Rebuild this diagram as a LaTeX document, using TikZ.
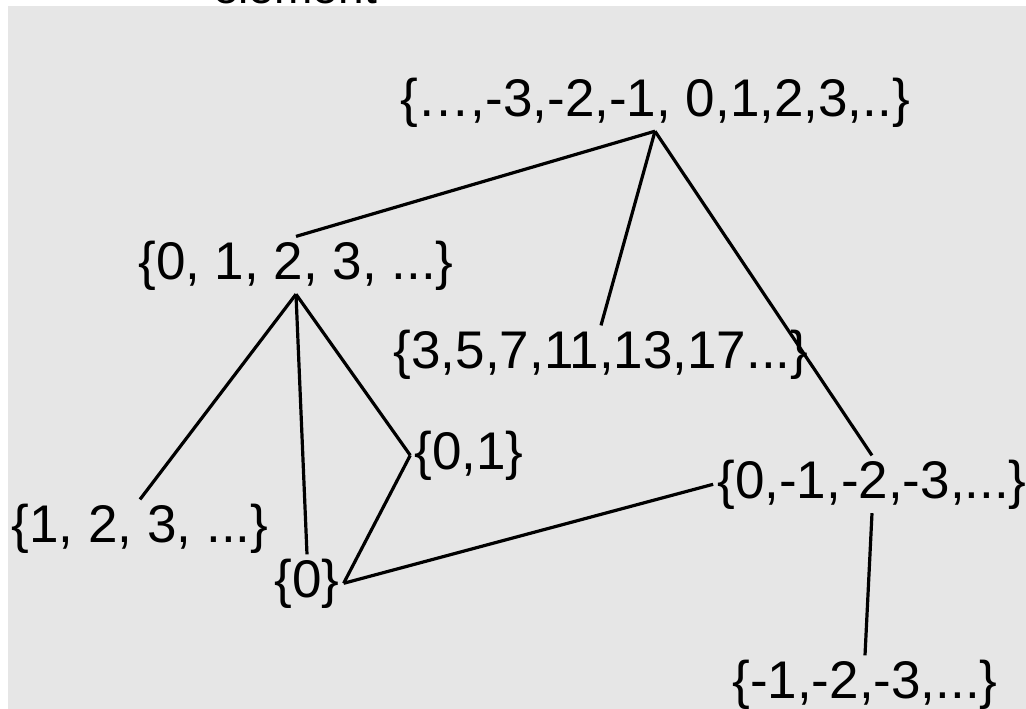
\documentclass[tikz,border=0pt]{standalone}
\usepackage{fontspec}
\setmainfont{Liberation Sans}
\usepackage{tikz}
\newcommand{\setlabelfont}{\fontsize{53}{60}\selectfont}
\definecolor{slidegray}{RGB}{230,230,230}
\tikzset{setnode/.style={font=\setlabelfont, inner sep=4pt, anchor=base},
  link/.style={line width=3.2pt}}

\begin{document}
\begin{tikzpicture}[x=1pt,y=-1pt]

\useasboundingbox (0,0) rectangle (1026,709);
\fill[slidegray] (8,6) rectangle (1026,709);
\node[font=\fontsize{46}{52}\selectfont, anchor=base west, inner sep=0pt] (title) at (213,4) {element};

\node[setnode] (z) at (655,116) {\{…,-3,-2,-1, 0,1,2,3,..\}};
\node[setnode] (n) at (296,279) {\{0, 1, 2, 3, ...\}};
\node[setnode] (p) at (601,368) {\{3,5,7,11,13,17...\}};
\node[setnode] (pos) at (140,542) {\{1, 2, 3, ...\}};
\node[setnode] (zo) at (469,469) {\{0,1\}};
\node[setnode] (zero) at (307,597) {\{0\}};
\node[setnode] (neg) at (872,498) {\{0,-1,-2,-3,...\}};
\node[setnode] (negpos) at (865,698) {\{-1,-2,-3,...\}};

\draw[link] (z.south) -- (n.north);
\draw[link] (z.south) -- (p.north);
\draw[link] (z.south) -- (neg.north);
\draw[link] (n.south) -- (pos.north);
\draw[link] (n.south) -- (zero.north);
\draw[link] (n.south) -- (zo.west);
\draw[link] (zo.west) -- (zero.east);
\draw[link] (zero.east) -- (neg.west);
\draw[link] (neg.south) -- (negpos.north);

\end{tikzpicture}
\end{document}
